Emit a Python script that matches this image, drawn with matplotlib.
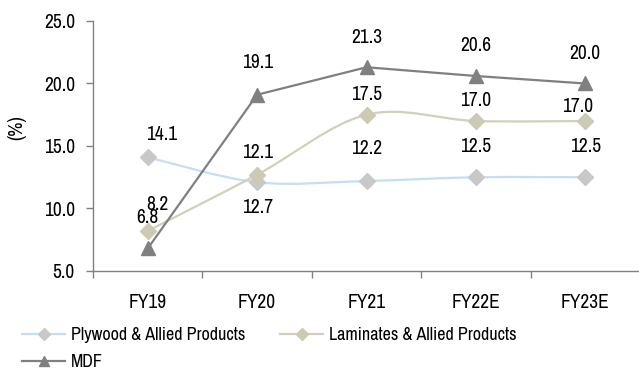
import numpy as np
import matplotlib
matplotlib.use('Agg')
import matplotlib.pyplot as plt
from matplotlib.path import Path
from matplotlib.patches import PathPatch
from matplotlib.lines import Line2D

# Dados das margens (%)
anos = ['FY19', 'FY20', 'FY21', 'FY22E', 'FY23E']
plywood = [14.1, 12.1, 12.2, 12.5, 12.5]
laminados = [8.2, 12.7, 17.5, 17.0, 17.0]
mdf = [6.8, 19.1, 21.3, 20.6, 20.0]

# deslocamento dos rótulos (dx, dy) em pixels
desl_plywood = [(14, 23), (0, 30), (0, 32), (0, 31), (0, 31)]
desl_laminados = [(10, 27), (0, -33), (0, 20), (0, 20), (-8, 14)]
desl_mdf = [(0, 31), (0, 32), (0, 30), (0, 30), (0, 30)]

plt.rcParams['font.family'] = ['Archivo Narrow', 'Roboto Condensed', 'DejaVu Sans']
FS = 14


def curva_suave(ax, xs, ys, cor, lw):
    # linha suavizada com curvas de Bezier (estilo Excel)
    pts = np.column_stack([xs, ys]).astype(float)
    n = len(pts)
    verts = [pts[0]]
    codes = [Path.MOVETO]
    for i in range(n - 1):
        p0 = pts[max(i - 1, 0)]
        p1 = pts[i]
        p2 = pts[i + 1]
        p3 = pts[min(i + 2, n - 1)]
        c1 = p1 + (p2 - p0) / 6
        c2 = p2 - (p3 - p1) / 6
        verts += [c1, c2, p2]
        codes += [Path.CURVE4] * 3
    ax.add_patch(PathPatch(Path(verts, codes), fill=False, edgecolor=cor,
                           lw=lw, capstyle='round', joinstyle='round', zorder=2))


def rotulos(ax, xs, ys, desl):
    for x, y, (dx, dy) in zip(xs, ys, desl):
        ax.annotate(f'{y:.1f}', (x, y), xytext=(dx * 0.72, dy * 0.72),
                    textcoords='offset points', ha='center', va='center',
                    fontsize=FS, color='black', zorder=5)


fig = plt.figure(figsize=(6.39, 3.88), dpi=100)
ax = fig.add_axes([93 / 639, 1 - 271 / 388, 547 / 639, 250 / 388])

x = np.arange(len(anos))

cor_ply_linha, cor_ply_marc = '#C6DDF4', '#C8C8C8'
cor_lam_linha, cor_lam_marc = '#D2CFBC', '#CDCAB4'
cor_mdf = '#808080'

curva_suave(ax, x, plywood, cor_ply_linha, 1.6)
ax.plot(x, plywood, linestyle='none', marker='D', ms=8,
        mfc=cor_ply_marc, mec=cor_ply_marc, zorder=3)

curva_suave(ax, x, laminados, cor_lam_linha, 1.6)
ax.plot(x, laminados, linestyle='none', marker='D', ms=8,
        mfc=cor_lam_marc, mec=cor_lam_marc, zorder=3)

ax.plot(x, mdf, color=cor_mdf, lw=1.6, marker='^', ms=10,
        mfc=cor_mdf, mec=cor_mdf, zorder=4)

rotulos(ax, x, plywood, desl_plywood)
rotulos(ax, x, laminados, desl_laminados)
rotulos(ax, x, mdf, desl_mdf)

# eixos
ax.set_xlim(-0.5, len(anos) - 0.5)
ax.set_ylim(5, 25)
ax.set_yticks(np.arange(5, 26, 5))
ax.set_yticklabels([f'{v:.1f}' for v in np.arange(5, 26, 5)], fontsize=FS)
ax.set_xticks(x)
ax.set_xticklabels(anos, fontsize=FS)
ax.set_xticks(np.arange(-0.5, len(anos), 1), minor=True)
ax.tick_params(axis='x', which='major', length=0, pad=16)
ax.tick_params(axis='x', which='minor', length=5, width=1, color='#808080')
ax.tick_params(axis='y', length=5, width=1, color='#808080', pad=8)
for lado in ['top', 'right']:
    ax.spines[lado].set_visible(False)
for lado in ['left', 'bottom']:
    ax.spines[lado].set_color('#808080')
    ax.spines[lado].set_linewidth(1)

fig.text(17 / 639, 1 - 128 / 388, '(%)', rotation=90, ha='center',
         va='center', fontsize=FS)

# legenda (duas colunas posicionadas separadamente)
h_ply = Line2D([], [], color=cor_ply_linha, lw=1.6, marker='D', ms=6,
               mfc=cor_ply_marc, mec=cor_ply_marc)
h_lam = Line2D([], [], color=cor_lam_linha, lw=1.6, marker='D', ms=6,
               mfc=cor_lam_marc, mec=cor_lam_marc)
h_mdf = Line2D([], [], color=cor_mdf, lw=1.6, marker='^', ms=7,
               mfc=cor_mdf, mec=cor_mdf)
opts = dict(loc='upper left', frameon=False, fontsize=13, handlelength=2.4,
            handletextpad=0.3, labelspacing=0.6, borderpad=0, borderaxespad=0)
fig.legend([h_ply, h_mdf], ['Plywood & Allied Products', 'MDF'],
           bbox_to_anchor=(22 / 639, 1 - 327 / 388), **opts)
fig.legend([h_lam], ['Laminates & Allied Products'],
           bbox_to_anchor=(280 / 639, 1 - 327 / 388), **opts)

fig.savefig('out.png', dpi=100)
